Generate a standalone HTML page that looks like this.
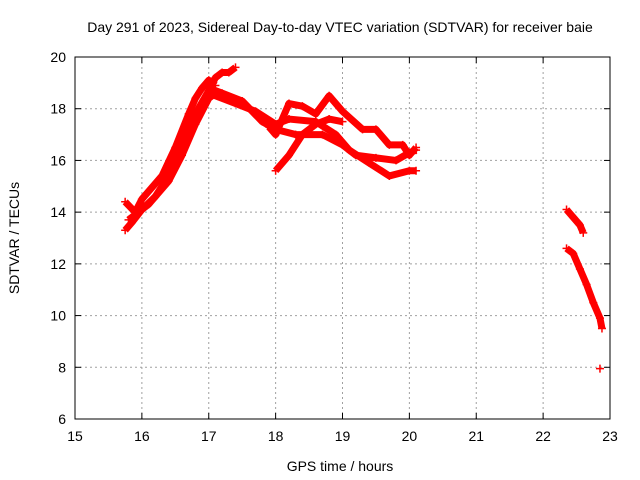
<!DOCTYPE html>
<html><head><meta charset="utf-8"><style>
body{margin:0;background:#fff}
svg{display:block;font-family:"Liberation Sans",sans-serif;font-size:14px}
</style></head><body>
<svg id="chart" width="640" height="480">
<text x="340" y="32" text-anchor="middle">Day 291 of 2023, Sidereal Day-to-day VTEC variation (SDTVAR) for receiver baie</text>
<text x="340" y="471" text-anchor="middle">GPS time / hours</text>
<text transform="translate(19,238) rotate(-90)" text-anchor="middle">SDTVAR / TECUs</text>
<g id="grid"></g>
<g id="axes"></g>
<g id="marks"></g>
</svg>
<script>
const xTicks=[15,16,17,18,19,20,21,22,23];
const yTicks=[6,8,10,12,14,16,18,20];
const riseA=[[15.75,13.3],[15.85,13.6],[16.0,14.1],[16.2,14.6],[16.4,15.4],[16.6,16.6],[16.8,17.8],[17.0,18.7],[17.1,19.2],[17.2,19.4],[17.3,19.4],[17.4,19.6]];
const riseB=[[15.75,14.4],[15.9,14.0],[16.0,14.5],[16.3,15.4],[16.5,16.5],[16.7,17.8],[16.8,18.4],[16.9,18.8],[17.0,19.1],[17.1,18.9]];
const riseC=[[15.8,13.7],[16.1,14.3],[16.4,15.2],[16.6,16.2],[16.8,17.4],[17.0,18.4],[17.1,18.6]];
const fallA=[[17.0,18.8],[17.2,18.6],[17.5,18.3],[17.8,17.5],[18.0,17.2],[18.3,17.0],[18.7,17.0],[19.0,16.6],[19.2,16.2],[19.5,16.1],[19.8,16.0],[20.0,16.3],[20.1,16.4]];
const fallB=[[17.0,18.6],[17.4,18.2],[17.7,17.9],[18.0,17.4],[18.2,17.6],[18.6,17.5],[18.9,17.0],[19.1,16.4],[19.4,15.9],[19.7,15.4],[20.0,15.6],[20.1,15.6]];
const lowRise=[[18.0,15.6],[18.2,16.2],[18.4,17.0],[18.6,17.4],[18.8,17.6],[19.0,17.5]];
const upper=[[17.9,17.3],[18.0,17.0],[18.2,18.2],[18.4,18.1],[18.6,17.8],[18.8,18.5],[19.0,17.9],[19.3,17.2],[19.5,17.2],[19.7,16.6],[19.9,16.6],[20.0,16.2],[20.1,16.5]];
const rightA=[[22.35,14.1],[22.45,13.8],[22.55,13.5],[22.6,13.2]];
const rightB=[[22.35,12.6],[22.45,12.4],[22.55,11.8],[22.65,11.2],[22.75,10.5],[22.85,9.9],[22.88,9.5]];
const single=[[22.85,7.95]];
const series=[riseA,riseB,riseC,fallA,fallB,lowRise,upper,rightA,rightB,single];
const X0=75,X1=610,Y0=419,Y1=57;
const sx=v=>X0+(v-15)/(23-15)*(X1-X0);
const sy=v=>Y0-(v-6)/(20-6)*(Y0-Y1);
const NS="http://www.w3.org/2000/svg";
function mk(t,a,p){const e=document.createElementNS(NS,t);for(const k in a)e.setAttribute(k,a[k]);p.appendChild(e);return e;}
const g=document.getElementById('grid'),ax=document.getElementById('axes'),m=document.getElementById('marks');
xTicks.forEach(t=>{const x=sx(t);
 if(t>15&&t<23){const l=mk('line',{x1:x,x2:x,y1:Y1,y2:Y0,stroke:'#a0a0a0','stroke-dasharray':'2,3'},g);
 }
 mk('line',{x1:x,x2:x,y1:Y0,y2:Y0-6,stroke:'#000'},ax);mk('line',{x1:x,x2:x,y1:Y1,y2:Y1+6,stroke:'#000'},ax);
 const tx=mk('text',{x:x,y:Y0+22,'text-anchor':'middle'},ax);tx.textContent=t;
 });
yTicks.forEach(t=>{const y=sy(t);
 if(t>6&&t<20){const l=mk('line',{x1:X0,x2:X1,y1:y,y2:y,stroke:'#a0a0a0','stroke-dasharray':'2,3'},g);
 }
 mk('line',{x1:X0,x2:X0+6,y1:y,y2:y,stroke:'#000'},ax);mk('line',{x1:X1,x2:X1-6,y1:y,y2:y,stroke:'#000'},ax);
 const tx=mk('text',{x:X0-9,y:y+5,'text-anchor':'end'},ax);tx.textContent=t;
 });
mk('rect',{x:X0,y:Y1,width:X1-X0,height:Y0-Y1,fill:'none',stroke:'#000'},ax);
series.forEach(s=>{
 if(s.length>1){const p=mk('polyline',{points:s.map(d=>sx(d[0])+','+sy(d[1])).join(' '),fill:'none',stroke:'#f00','stroke-width':7,'stroke-linejoin':'round'},m);
 }
 s.forEach(d=>{const x=sx(d[0]),y=sy(d[1]);
  const pt=mk('path',{d:`M${x-4},${y}H${x+4}M${x},${y-4}V${y+4}`,stroke:'#f00','stroke-width':1.5},m);
  });
});
</script>
</body></html>
